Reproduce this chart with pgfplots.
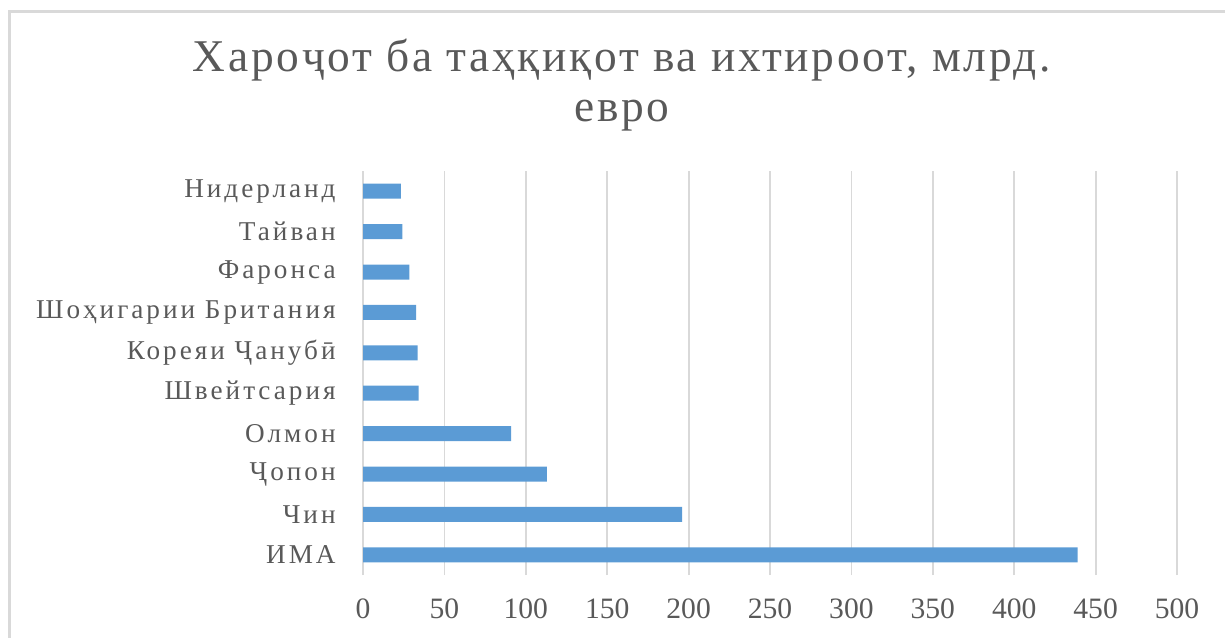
\documentclass[border=0pt]{standalone}
\usepackage{fontspec}
\setmainfont{Liberation Serif}
\newfontfamily\lbl[LetterSpace=11]{Liberation Serif}
\newfontfamily\ttl[LetterSpace=6]{Liberation Serif}
\usepackage{pgfplots}
\pgfplotsset{compat=1.18}
\definecolor{barblue}{HTML}{5B9BD5}
\definecolor{gridc}{HTML}{D9D9D9}
\definecolor{txt}{HTML}{595959}
\definecolor{framec}{HTML}{D9D9D9}
\begin{document}
\begin{tikzpicture}
\useasboundingbox (0,0) rectangle (612.5pt,318.5pt);
\draw[framec, line width=1.5pt] (4.5pt,-20pt) -- (4.5pt,312.75pt) -- (640pt,312.75pt);
\node[anchor=base, inner sep=0pt, font=\ttl\fontsize{22.7}{27}\selectfont, text=txt] at (311pt,282.5pt) {Хароҷот ба таҳқиқот ва ихтироот, млрд.};
\node[anchor=base, inner sep=0pt, font=\ttl\fontsize{22.7}{27}\selectfont, text=txt] at (311pt,257.5pt) {евро};
\begin{axis}[
  at={(181.5pt,31pt)}, anchor=south west,
  scale only axis, width=407pt, height=202pt,
  xbar, bar width=7.5pt,
  xmin=0, xmax=500, ymin=-0.5, ymax=9.5,
  xtick={0,50,...,500},
  ytick={0,...,9},
  yticklabels={ИМА, Чин\ , Ҷопон\ , Олмон, Швейтсария, Кореяи Ҷанубӣ, Шоҳигарии Британия, Фаронса, Тайван\ , Нидерланд},
  axis line style={draw=none},
  major tick length=0pt,
  xmajorgrids, grid style={gridc, line width=0.9pt},
  /pgf/number format/assume math mode=true,
  xticklabel style={font=\fontsize{14.8}{16}\selectfont, text=txt, anchor=north, inner sep=0pt, yshift=-11.5pt},
  yticklabel style={font=\lbl\fontsize{13.6}{15}\selectfont, text=txt, anchor=east, inner sep=0pt, xshift=-13.5pt},
]
\addplot[fill=barblue, draw=none] coordinates {(439,0) (196,1) (113,2) (91,3) (34.2,4) (33.6,5) (32.6,6) (28.5,7) (24.2,8) (23.3,9)};
\end{axis}
\end{tikzpicture}
\end{document}
